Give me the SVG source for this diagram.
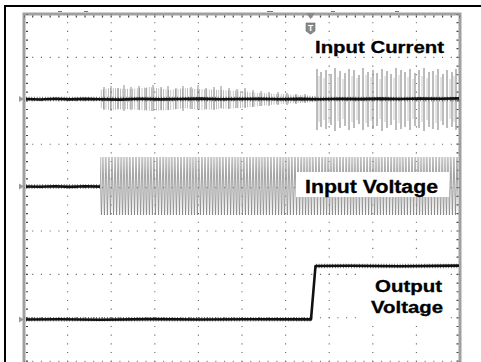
<svg xmlns="http://www.w3.org/2000/svg" width="481" height="362" viewBox="0 0 481 362">
<defs>
<style>
.grid{stroke:#666;stroke-width:1.1;fill:none}
.gv{stroke-dasharray:1.1 7.58;stroke-dashoffset:0.55}
.gh{stroke-dasharray:1.1 7.62;stroke-dashoffset:0.55}
.tick{stroke:#444;stroke-width:2;fill:none}
.base{stroke:#111;stroke-width:2.6;fill:none;stroke-linejoin:round}
.fuzz{stroke:#555;stroke-width:4.5;fill:none;stroke-dasharray:0.8 1.9}
.lbl{font-family:"Liberation Sans",Arial,sans-serif;font-weight:bold;fill:#000;stroke:#000;stroke-width:0.3}
.gnd{fill:#999}
</style>
<pattern id="vzig1" patternUnits="userSpaceOnUse" x="100" y="157" width="3" height="58">
<path d="M0 0 L1.5 58 L3 0" stroke="#707070" stroke-width="0.6" fill="none"/>
</pattern>
<pattern id="vzig2" patternUnits="userSpaceOnUse" x="100" y="157" width="3.45" height="58">
<path d="M0 58 L1.7 0 L3.45 58" stroke="#cfcfcf" stroke-width="0.5" fill="none"/>
</pattern>
<pattern id="vlines" patternUnits="userSpaceOnUse" x="0" y="0" width="2.4" height="362">
<rect x="0" y="0" width="0.6" height="362" fill="#9a9a9a"/>
</pattern>
</defs>
<rect width="481" height="362" fill="#fff"/>
<g id="frame">
<path d="M5 6 H481 M5 5 V362" stroke="#000" stroke-width="2" fill="none"/>
</g>
<g id="graticule">
<rect x="24" y="14" width="436" height="360" fill="none" stroke="#a0a0a0" stroke-width="3"/>
<path class="tick" d="M27 14 V362" stroke-dasharray="1.2 7.48" stroke-dashoffset="0.6"/>
<path class="tick" d="M24 16.5 H460" stroke-dasharray="1.2 7.52" stroke-dashoffset="0.6"/>
<path class="tick" d="M457.5 14 V362" stroke-dasharray="1.2 7.48" stroke-dashoffset="0.6"/>
<path class="grid gv" d="M67.6 14V362M111.2 14V362M154.8 14V362M198.4 14V362M242 14V362M285.6 14V362M329.2 14V362M372.8 14V362M416.4 14V362"/>
<path class="grid gh" d="M24 57.4H460M24 100.8H460M24 144.2H460M24 187.6H460M24 231H460M24 274.4H460M24 317.8H460M24 361.2H460"/>
<path d="M58 11.5h4M84 11.5h4M267 11.5h6M331 11.5h4M395 11.5h4" stroke="#777" stroke-width="1.2"/>
</g>
<g id="trigger">
<polygon points="306,13 315,13 310.5,19" fill="#8a8a8a"/>
<path d="M306 23 h9 v8 l-4.5 3.2 l-4.5 -3.2 z" fill="#8a8a8a" stroke="#666" stroke-width="0.6"/>
<text x="310.5" y="31" font-family="Liberation Sans,Arial,sans-serif" font-weight="bold" font-size="8.5" fill="#fff" text-anchor="middle">T</text>
</g>
<g id="ground-markers">
<polygon class="gnd" points="19,96 24,99 19,102"/>
<polygon class="gnd" points="19,183.5 24,186.5 19,189.5"/>
<polygon class="gnd" points="19,316.5 24,319.5 19,322.5"/>
</g>
<g id="input-current-trace">
<polygon fill="url(#vlines)" points="100,90 110,88 130,89 150,87 170,90 185,88 200,89 220,90 240,91 260,93 280,94 300,95 316,96 316,102 300,103 280,104 260,106 240,108 220,109 200,110 185,108 170,110 150,111 130,109 110,110 100,108"/>
<path d="M104 87v23M111 86v25M118 88v21M124 85v26M131 87v23M139 86v24M146 88v22M153 85v26M161 87v23M168 86v24M176 88v21M183 86v25M191 87v22M198 85v24M206 88v21M214 87v23M221 86v22M229 88v21M237 89v19M245 88v20M253 90v17M261 91v15M269 92v14M278 92v13M287 93v12M296 94v10M305 94v9" stroke="#707070" stroke-width="0.8"/>
<path d="M317 69V130M321 72V127M326 70V129M331 74V125M335 68V131M340 71V128M345 73V126M349 69V130M354 70V128M359 75V124M363 68V130M368 72V127M373 70V129M377 73V126M382 69V131M387 71V128M391 74V125M396 68V130M401 70V129M405 72V127M410 69V130M415 73V126M419 70V128M424 68V131M429 72V127M433 71V129M438 69V130M443 74V125M447 70V128M452 72V127M456 69V130" stroke="#7a7a7a" stroke-width="1"/>
<path d="M319 76V122M324 78V120M329 75V123M338 77V121M343 79V119M352 76V122M357 78V120M366 75V123M371 77V121M380 79V119M385 76V122M394 78V120M399 75V123M408 77V121M413 79V119M422 76V122M427 78V120M436 75V123M441 77V121M450 79V119M454 76V122" stroke="#bdbdbd" stroke-width="0.8"/>
<path class="fuzz" d="M26 99 H460"/>
<path class="base" d="M26 99 L40 99.5 L55 98.8 L70 99.4 L85 98.9 L100 99.2 L120 99.6 L140 98.8 L160 99.4 L180 99 L200 98.6 L220 99.3 L240 99 L260 98.7 L280 99.2 L300 98.9 L320 99.3 L340 98.7 L360 99.1 L380 98.6 L400 99 L420 98.5 L440 98.8 L459 98.4"/>
</g>
<g id="input-voltage-trace">
<rect x="100" y="157" width="358" height="58" fill="url(#vzig2)"/>
<rect x="100" y="157" width="358" height="58" fill="url(#vzig1)"/>
<path class="fuzz" d="M26 186.5 H100"/>
<path class="base" d="M26 186.5 L40 186.8 L55 186.2 L70 186.9 L85 186.3 L100 186.6"/>
</g>
<g id="output-voltage-trace">
<path class="fuzz" d="M26 319.3 H311 M316 266 H459"/>
<path class="base" d="M26 319.5 L60 319.2 L100 319.7 L150 319.1 L200 319.5 L250 319.2 L311 319.4 L315.5 266 L350 265.8 L400 266.2 L459 265.6"/>
</g>
<g id="labels">
<text class="lbl" x="315" y="53" font-size="17" textLength="129" lengthAdjust="spacingAndGlyphs">Input Current</text>
<rect x="296" y="172" width="153" height="25" fill="#fff"/>
<text class="lbl" x="305" y="192.5" font-size="18" textLength="133" lengthAdjust="spacingAndGlyphs">Input Voltage</text>
<rect x="358" y="269" width="90" height="54" fill="#fff"/>
<text class="lbl" x="375" y="292" font-size="16" textLength="67" lengthAdjust="spacingAndGlyphs">Output</text>
<text class="lbl" x="371" y="313" font-size="16" textLength="72" lengthAdjust="spacingAndGlyphs">Voltage</text>
</g>
</svg>
